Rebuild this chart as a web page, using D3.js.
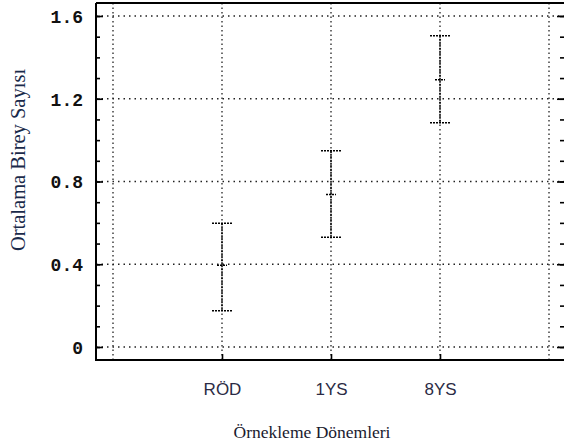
<!DOCTYPE html>
<html>
<head>
<meta charset="utf-8">
<script src="https://cdn.jsdelivr.net/npm/d3@7"></script>
<style>
  body { margin: 0; background: #fff; }
  svg { display: block; }
</style>
</head>
<body>
<div id="chart"></div>
<script>
// data
const categories = ["RÖD", "1YS", "8YS"];
const means = [0.395, 0.737, 1.292];
const lowers = [0.175, 0.53, 1.084];
const uppers = [0.598, 0.949, 1.504];
const yTickLabels = [0, 0.4, 0.8, 1.2, 1.6];
const yMinorTicks = d3.range(0, 17).map(i => i / 10);

const width = 564;
const height = 445;

// frame of the plot
const frameLeft = 96, frameTop = 3, frameRight = 565, frameBottom = 360;

const svg = d3.select("#chart").append("svg")
  .attr("width", width)
  .attr("height", height);

// categories sit at 1,2,3 on a 0..4 axis (grid lines at every integer)
const x = d3.scaleLinear().domain([0, 4]).range([113, 549]);
const y = d3.scaleLinear().domain([0, 1.6]).range([347, 16]);

const data = categories.map((c, i) => ({
  cat: c, pos: i + 1, mean: means[i], lo: lowers[i], hi: uppers[i]
}));

// dotted grid
svg.append("g").selectAll("line")
  .data(yTickLabels)
  .enter().append("line")
  .attr("x1", frameLeft).attr("x2", frameRight)
  .attr("y1", d => y(d)).attr("y2", d => y(d))
  .attr("stroke", "#222").attr("stroke-width", 1.3)
  .attr("stroke-dasharray", "1.5,4");

svg.append("g").selectAll("line")
  .data(d3.range(0, 5))
  .enter().append("line")
  .attr("x1", d => x(d)).attr("x2", d => x(d))
  .attr("y1", frameTop).attr("y2", frameBottom)
  .attr("stroke", "#222").attr("stroke-width", 1.3)
  .attr("stroke-dasharray", "1.5,3");

// left axis: minor + major ticks pointing inward
const leftMinor = svg.append("g")
  .attr("transform", `translate(${frameLeft},0)`)
  .call(d3.axisLeft(y).tickValues(yMinorTicks).tickSize(-4).tickFormat(""));
const leftMajor = svg.append("g")
  .attr("transform", `translate(${frameLeft},0)`)
  .call(d3.axisLeft(y).tickValues(yTickLabels).tickSize(-7).tickPadding(13)
    .tickFormat(d => d === 0 ? "0" : d3.format(".1f")(d)));

// right axis ticks
const rightMinor = svg.append("g")
  .attr("transform", `translate(${frameRight - 1},0)`)
  .call(d3.axisRight(y).tickValues(yMinorTicks).tickSize(-4).tickFormat(""));
const rightMajor = svg.append("g")
  .attr("transform", `translate(${frameRight - 1},0)`)
  .call(d3.axisRight(y).tickValues(yTickLabels).tickSize(-7).tickFormat(""));

// bottom axis
const bottom = svg.append("g")
  .attr("transform", `translate(0,${frameBottom})`)
  .call(d3.axisBottom(x).tickValues([1, 2, 3]).tickSize(-6)
    .tickFormat(d => categories[d - 1]));

[leftMinor, leftMajor, rightMinor, rightMajor, bottom].forEach(g => {
  g.select(".domain").remove();
  g.selectAll(".tick line").attr("stroke", "#000").attr("stroke-width", 1.6);
});

leftMajor.selectAll(".tick text")
  .attr("font-family", "'Liberation Mono', 'Courier New', monospace")
  .attr("font-weight", "bold")
  .attr("font-size", 18)
  .attr("fill", "#111")
  .attr("dy", "0.36em");

bottom.selectAll(".tick text")
  .attr("font-family", "'Liberation Sans', Arial, sans-serif")
  .attr("font-size", 17)
  .attr("fill", "#2b2b45")
  .attr("y", 35)
  .attr("dy", 0);

// frame
svg.append("path")
  .attr("d", `M${frameLeft},${frameTop}H${frameRight}M${frameLeft},${frameTop}V${frameBottom}H${frameRight}`)
  .attr("fill", "none")
  .attr("stroke", "#000")
  .attr("stroke-width", 2);

// error bars
const bars = svg.append("g").selectAll("g")
  .data(data)
  .enter().append("g");

bars.append("line")
  .attr("x1", d => x(d.pos)).attr("x2", d => x(d.pos))
  .attr("y1", d => y(d.hi)).attr("y2", d => y(d.lo))
  .attr("stroke", "#000").attr("stroke-width", 1.5)
  .attr("stroke-dasharray", "2,1");

bars.append("line")
  .attr("x1", d => x(d.pos) - 10).attr("x2", d => x(d.pos) + 11)
  .attr("y1", d => y(d.hi)).attr("y2", d => y(d.hi))
  .attr("stroke", "#000").attr("stroke-width", 1.5)
  .attr("stroke-dasharray", "2,1");

bars.append("line")
  .attr("x1", d => x(d.pos) - 10).attr("x2", d => x(d.pos) + 11)
  .attr("y1", d => y(d.lo)).attr("y2", d => y(d.lo))
  .attr("stroke", "#000").attr("stroke-width", 1.5)
  .attr("stroke-dasharray", "2,1");

bars.append("line")
  .attr("x1", d => x(d.pos) - 5).attr("x2", d => x(d.pos) + 5)
  .attr("y1", d => y(d.mean)).attr("y2", d => y(d.mean))
  .attr("stroke", "#000").attr("stroke-width", 1.5)
  .attr("stroke-dasharray", "2,1");

// axis titles
svg.append("text")
  .attr("x", 312).attr("y", 438)
  .attr("text-anchor", "middle")
  .attr("font-family", "'Liberation Serif', 'Times New Roman', serif")
  .attr("font-size", 17.5)
  .attr("fill", "#1a1a2e")
  .text("Örnekleme Dönemleri");

svg.append("text")
  .attr("transform", "translate(25,160) rotate(-90)")
  .attr("text-anchor", "middle")
  .attr("font-family", "'Liberation Serif', 'Times New Roman', serif")
  .attr("font-size", 20.5)
  .attr("fill", "#1a2a4a")
  .text("Ortalama Birey Sayısı");
</script>
</body>
</html>
